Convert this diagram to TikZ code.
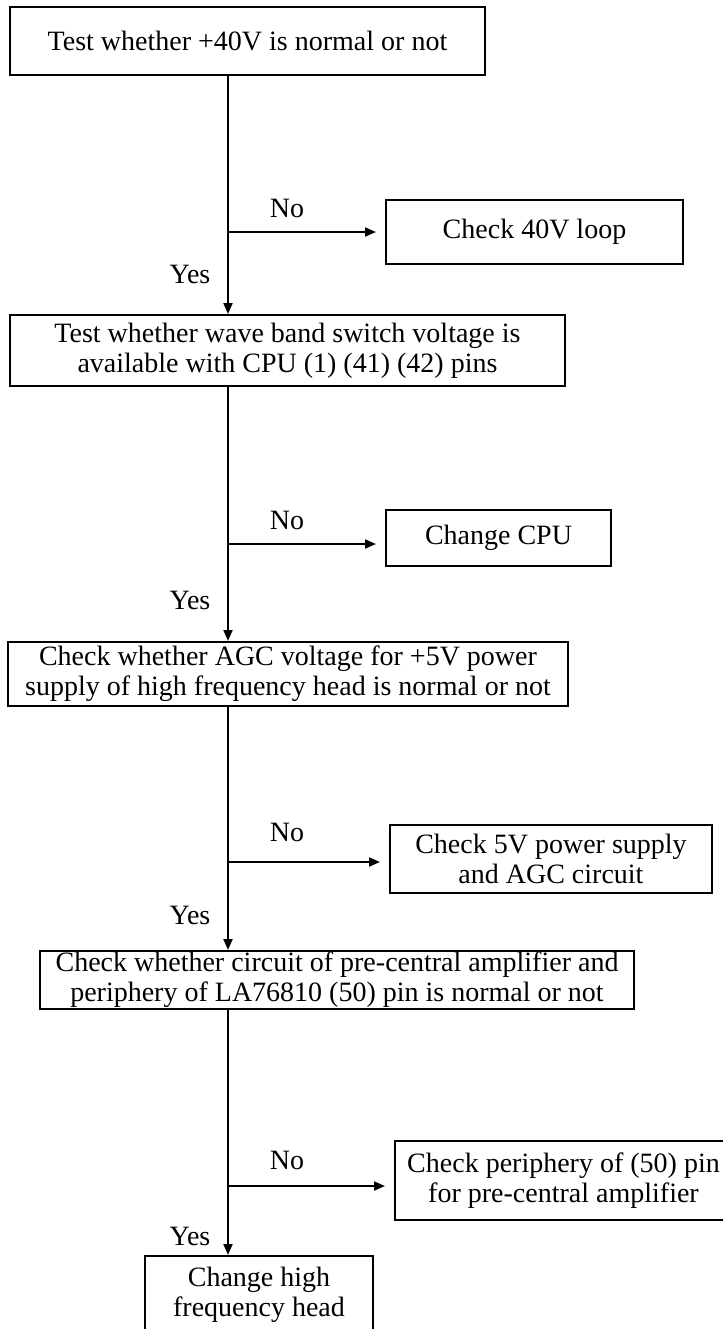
\documentclass[tikz,border=0pt]{standalone}
\usepackage{fontspec}
\setmainfont{Liberation Serif}
\usetikzlibrary{arrows.meta}
\begin{document}
\begin{tikzpicture}[x=0.5pt,y=-0.5pt,
  box/.style={draw, line width=1pt, align=center, inner sep=0pt, font=\fontsize{14pt}{15pt}\selectfont},
  lab/.style={inner sep=0pt, font=\fontsize{14pt}{15pt}\selectfont},
  flow/.style={line width=1pt, -{Triangle[length=5.5pt,width=4.5pt]}}]
\useasboundingbox (0,0) rectangle (723,1329);
\clip (0,0) rectangle (723,1329);
% main column
\node[box, minimum width=237.5pt, minimum height=34pt] (b1) at (247.5,41) {Test whether +40V is normal or not};
\node[box, minimum width=277.5pt, minimum height=35.5pt] (b2) at (287.5,350.5) {Test whether wave band switch voltage is\\available with CPU (1) (41) (42) pins};
\node[box, minimum width=280pt, minimum height=32pt] (b3) at (288,674) {Check whether AGC voltage for +5V power\\supply of high frequency head is normal or not};
\node[box, minimum width=297pt, minimum height=29pt] (b4) at (337,980) {Check whether circuit of pre-central amplifier and\\periphery of LA76810 (50) pin is normal or not};
\node[box, minimum width=114pt, minimum height=38.5pt] (b5) at (259,1294.5) {Change high\\frequency head};
% side boxes
\node[box, minimum width=148.5pt, minimum height=32pt] (r1) at (534.5,232) {Check 40V loop};
\node[box, minimum width=112.5pt, minimum height=28pt] (r2) at (498.5,538) {Change CPU};
\node[box, minimum width=161pt, minimum height=34pt] (r3) at (551,859) {Check 5V power supply\\and AGC circuit};
\node[box, minimum width=168.5pt, minimum height=39.5pt] (r4) at (563.5,1180.5) {Check periphery of (50) pin\\for pre-central amplifier};
% junctions
\coordinate (j1) at (228,232);
\coordinate (j2) at (228,544);
\coordinate (j3) at (228,862);
\coordinate (j4) at (228,1186);
% vertical flow
\draw[flow] (b1.south -| j1) -- (b2.north -| j1);
\draw[flow] (b2.south -| j2) -- (b3.north -| j2);
\draw[flow] (b3.south -| j3) -- (b4.north -| j3);
\draw[flow] (b4.south -| j4) -- (b5.north -| j4);
% branches
\draw[flow, shorten >=4.5pt] (j1) -- (j1 -| r1.west);
\draw[flow, shorten >=4.5pt] (j2) -- (j2 -| r2.west);
\draw[flow, shorten >=4.5pt] (j3) -- (j3 -| r3.west);
\draw[flow, shorten >=4.5pt] (j4) -- (j4 -| r4.west);
% labels
\node[lab] (n1) at (287,208) {No};
\node[lab] (n2) at (287,520) {No};
\node[lab] (n3) at (287,832) {No};
\node[lab] (n4) at (287,1160) {No};
\node[lab] (y1) at (190,274) {Yes};
\node[lab] (y2) at (190,600) {Yes};
\node[lab] (y3) at (190,915) {Yes};
\node[lab] (y4) at (190,1236) {Yes};
\end{tikzpicture}
\end{document}
